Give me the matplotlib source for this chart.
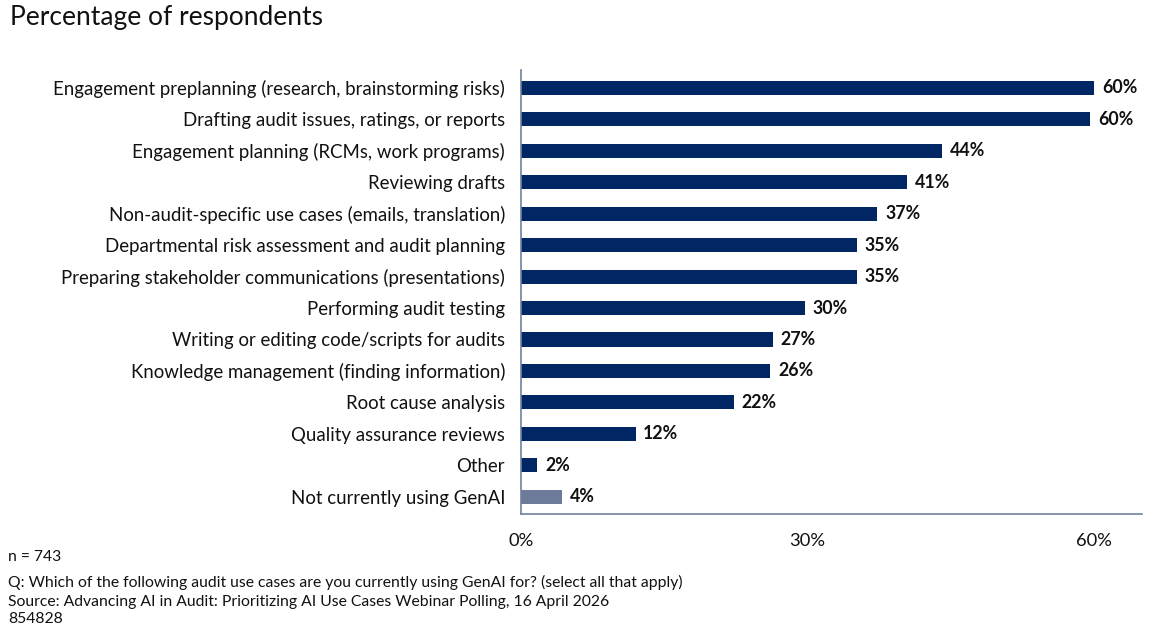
import matplotlib
matplotlib.use("Agg")
import matplotlib.pyplot as plt
from matplotlib.ticker import FuncFormatter

plt.rcParams['font.family'] = ['Lato', 'DejaVu Sans']

categories = [
    "Engagement preplanning (research, brainstorming risks)",
    "Drafting audit issues, ratings, or reports",
    "Engagement planning (RCMs, work programs)",
    "Reviewing drafts",
    "Non-audit-specific use cases (emails, translation)",
    "Departmental risk assessment and audit planning",
    "Preparing stakeholder communications (presentations)",
    "Performing audit testing",
    "Writing or editing code/scripts for audits",
    "Knowledge management (finding information)",
    "Root cause analysis",
    "Quality assurance reviews",
    "Other",
    "Not currently using GenAI",
]
values = [60.0, 59.6, 44.1, 40.4, 37.3, 35.2, 35.2, 29.7, 26.4, 26.1, 22.3, 12.0, 1.7, 4.3]
value_labels = ["60%", "60%", "44%", "41%", "37%", "35%", "35%", "30%", "27%", "26%", "22%", "12%", "2%", "4%"]
xticks = [0, 30, 60]

navy = "#002663"
grey = "#6e7a99"
colors = [navy] * (len(categories) - 1) + [grey]

fig = plt.figure(figsize=(11.7, 6.25), dpi=100)
ax = fig.add_axes([521/1170, 1 - 514/625, (1142-521)/1170, (514-70)/625])

y = list(range(len(categories)))
ax.barh(y, values, height=0.45, color=colors)
for yi, v, lab in zip(y, values, value_labels):
    ax.text(v + 0.8, yi, lab, va='center', ha='left', fontsize=12.8, fontweight='bold', color='#111111')

ax.set_xlim(0, 65)
ax.set_ylim(13.55, -0.57)
ax.set_yticks(y)
ax.set_yticklabels(categories, fontsize=13.4, color='#111111')
ax.set_xticks(xticks)
ax.xaxis.set_major_formatter(FuncFormatter(lambda v, p: f"{v:.0f}%"))
ax.tick_params(axis='both', length=0)
ax.tick_params(axis='y', pad=11.5)
ax.tick_params(axis='x', pad=14, labelsize=13.2, labelcolor='#111111')
for s in ['top', 'right']:
    ax.spines[s].set_visible(False)
for s in ['left', 'bottom']:
    ax.spines[s].set_color('#7080a0')
    ax.spines[s].set_linewidth(1.2)

fig.text(10/1170, 1 - 18/625, "Percentage of respondents", fontsize=19, va='center', ha='left', color='#111111')
fig.text(8/1170, 1 - 557/625, "n = 743", fontsize=11.3, va='center', ha='left', color='#111111')
fig.text(8/1170, 1 - 582/625, "Q: Which of the following audit use cases are you currently using GenAI for? (select all that apply)", fontsize=11.3, va='center', ha='left', color='#111111')
fig.text(8/1170, 1 - 602/625, "Source: Advancing AI in Audit: Prioritizing AI Use Cases Webinar Polling, 16 April 2026", fontsize=11.3, va='center', ha='left', color='#111111')
fig.text(8/1170, 1 - 619/625, "854828", fontsize=11.3, va='center', ha='left', color='#111111')

fig.savefig("out.png", dpi=100, facecolor='white')
